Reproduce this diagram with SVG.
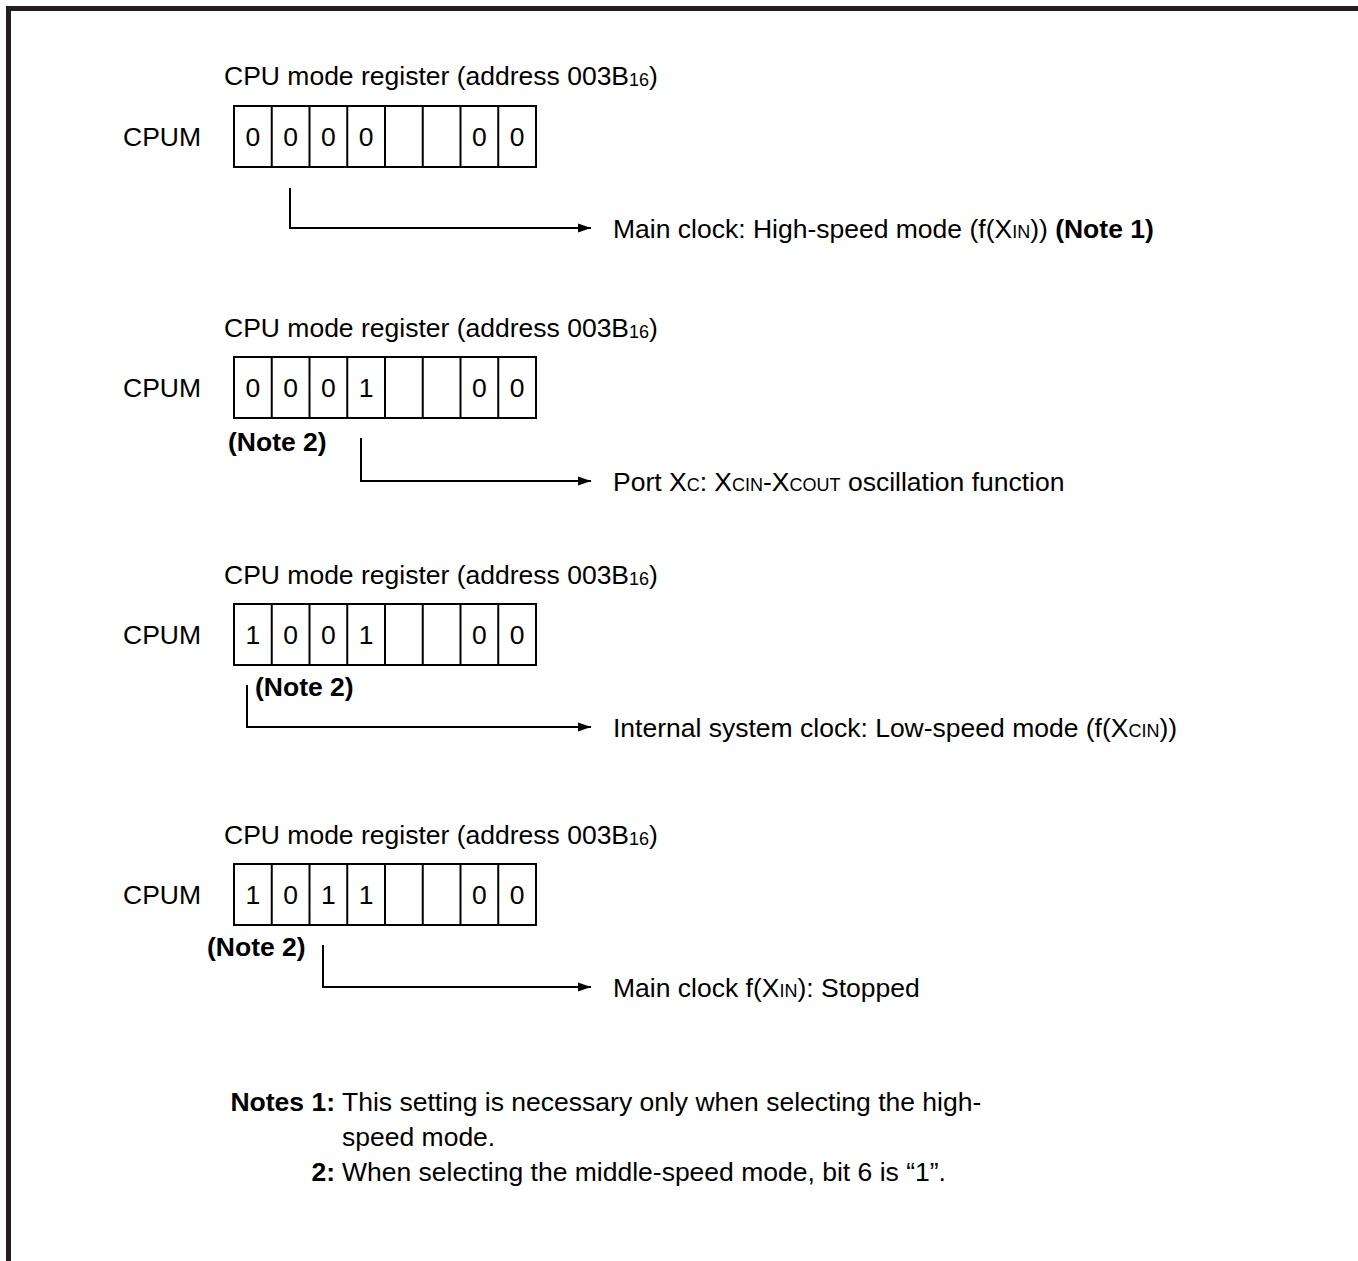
<svg xmlns="http://www.w3.org/2000/svg" width="1358" height="1261" viewBox="0 0 1358 1261">
<defs>
<style>
text{font-family:"Liberation Sans",Arial,Helvetica,sans-serif;font-size:26.5px;fill:#000}
.b{font-weight:bold}
.s{font-size:18px}
.d{text-anchor:middle}
.cell{fill:#fff;stroke:#000;stroke-width:2}
.wire{fill:none;stroke:#000;stroke-width:2}
.frame{fill:none;stroke:#231f20;stroke-width:5}
</style>
<marker id="ah" markerWidth="14" markerHeight="10" refX="13" refY="5" orient="auto" markerUnits="userSpaceOnUse">
<path d="M0,0.5 L13,5 L0,9.5 Z" fill="#000"/>
</marker>
</defs>
<rect width="1358" height="1261" fill="#fff"/>
<g id="frame">
<path class="frame" d="M8.5,1261 V8.5 H1358"/>
</g>

<g id="reg1">
<text x="224" y="84.5">CPU mode register (address 003B<tspan class="s" dy="1">16</tspan><tspan dy="-1">)</tspan></text>
<text x="123" y="146">CPUM</text>
<rect class="cell" x="234" y="106" width="302" height="61"/>
<path class="wire" d="M271.75,106V167M309.5,106V167M347.25,106V167M385,106V167M422.75,106V167M460.5,106V167M498.25,106V167"/>
<text class="d" x="252.9" y="146">0</text>
<text class="d" x="290.6" y="146">0</text>
<text class="d" x="328.4" y="146">0</text>
<text class="d" x="366.1" y="146">0</text>
<text class="d" x="479.4" y="146">0</text>
<text class="d" x="517.1" y="146">0</text>
</g>

<g id="reg2">
<text x="224" y="336.5">CPU mode register (address 003B<tspan class="s" dy="1">16</tspan><tspan dy="-1">)</tspan></text>
<text x="123" y="397">CPUM</text>
<rect class="cell" x="234" y="357" width="302" height="61"/>
<path class="wire" d="M271.75,357V418M309.5,357V418M347.25,357V418M385,357V418M422.75,357V418M460.5,357V418M498.25,357V418"/>
<text class="d" x="252.9" y="397">0</text>
<text class="d" x="290.6" y="397">0</text>
<text class="d" x="328.4" y="397">0</text>
<text class="d" x="366.1" y="397">1</text>
<text class="d" x="479.4" y="397">0</text>
<text class="d" x="517.1" y="397">0</text>
<text class="b" x="228" y="451">(Note 2)</text>
</g>

<g id="reg3">
<text x="224" y="583.5">CPU mode register (address 003B<tspan class="s" dy="1">16</tspan><tspan dy="-1">)</tspan></text>
<text x="123" y="644">CPUM</text>
<rect class="cell" x="234" y="604" width="302" height="61"/>
<path class="wire" d="M271.75,604V665M309.5,604V665M347.25,604V665M385,604V665M422.75,604V665M460.5,604V665M498.25,604V665"/>
<text class="d" x="252.9" y="644">1</text>
<text class="d" x="290.6" y="644">0</text>
<text class="d" x="328.4" y="644">0</text>
<text class="d" x="366.1" y="644">1</text>
<text class="d" x="479.4" y="644">0</text>
<text class="d" x="517.1" y="644">0</text>
<text class="b" x="255" y="696">(Note 2)</text>
</g>

<g id="reg4">
<text x="224" y="843.5">CPU mode register (address 003B<tspan class="s" dy="1">16</tspan><tspan dy="-1">)</tspan></text>
<text x="123" y="904">CPUM</text>
<rect class="cell" x="234" y="864" width="302" height="61"/>
<path class="wire" d="M271.75,864V925M309.5,864V925M347.25,864V925M385,864V925M422.75,864V925M460.5,864V925M498.25,864V925"/>
<text class="d" x="252.9" y="904">1</text>
<text class="d" x="290.6" y="904">0</text>
<text class="d" x="328.4" y="904">1</text>
<text class="d" x="366.1" y="904">1</text>
<text class="d" x="479.4" y="904">0</text>
<text class="d" x="517.1" y="904">0</text>
<text class="b" x="207" y="956">(Note 2)</text>
</g>

<g id="connectors">
<path class="wire" marker-end="url(#ah)" d="M290,188 V228 H591"/>
<path class="wire" marker-end="url(#ah)" d="M361,438 V481 H591"/>
<path class="wire" marker-end="url(#ah)" d="M247,685 V727 H591"/>
<path class="wire" marker-end="url(#ah)" d="M323,945 V987 H591"/>
</g>

<g id="label1">
<text x="613" y="237.5">Main clock: High-speed mode (f(X<tspan class="s">IN</tspan>)) <tspan class="b">(Note 1)</tspan></text>
</g>
<g id="label2">
<text x="613" y="490.5">Port X<tspan class="s">C</tspan>: X<tspan class="s">CIN</tspan>-X<tspan class="s">COUT</tspan> oscillation function</text>
</g>
<g id="label3">
<text x="613" y="736.5">Internal system clock: Low-speed mode (f(X<tspan class="s">CIN</tspan>))</text>
</g>
<g id="label4">
<text x="613" y="996.5">Main clock f(X<tspan class="s">IN</tspan>): Stopped</text>
</g>

<g id="notes">
<text class="b" x="335" y="1110.5" text-anchor="end">Notes 1:</text>
<text x="342" y="1110.5">This setting is necessary only when selecting the high-</text>
<text x="342" y="1145.5">speed mode.</text>
<text class="b" x="335" y="1180.5" text-anchor="end">2:</text>
<text x="342" y="1180.5">When selecting the middle-speed mode, bit 6 is “1”.</text>
</g>
</svg>
